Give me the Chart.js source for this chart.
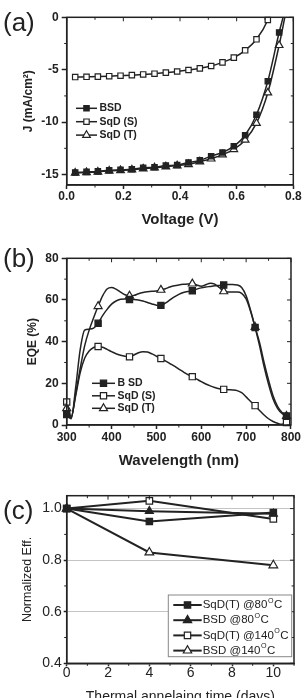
<!DOCTYPE html>
<html>
<head>
<meta charset="utf-8">
<script src="https://cdn.jsdelivr.net/npm/chart.js@4.4.1/dist/chart.umd.min.js"></script>
<style>
    body { margin: 0; width: 304px; height: 698px; overflow: hidden; background: #fff; position: relative; }
    .panel { position: absolute; left: 0; width: 304px; }
    .tag { position: absolute; left: 3px; font: 26px/26px 'Liberation Sans', Arial, sans-serif; color: #222; }
</style>
</head>
<body>
<div class="panel" style="top:0"><canvas id="jv" width="304" height="232"></canvas></div>
<div class="panel" style="top:232px"><canvas id="eqe" width="304" height="238"></canvas></div>
<div class="panel" style="top:470px"><canvas id="stab" width="304" height="240"></canvas></div>
<div class="tag" style="top:9px">(a)</div>
<div class="tag" style="top:245px">(b)</div>
<div class="tag" style="top:497px">(c)</div>
<script>
// (a) J-V curves
const jvVoltage = [0.03, 0.07, 0.11, 0.15, 0.19, 0.23, 0.27, 0.31, 0.35, 0.39, 0.43, 0.47, 0.51, 0.55, 0.59, 0.63, 0.67, 0.71, 0.75];
const jvBSD  = [-14.8, -14.75, -14.7, -14.6, -14.55, -14.5, -14.35, -14.3, -14.15, -14.1, -13.85, -13.65, -13.25, -12.9, -12.3, -11.25, -9.3, -6.1, -1.45];
const jvSqDS = [-5.7, -5.68, -5.66, -5.62, -5.57, -5.52, -5.45, -5.38, -5.28, -5.17, -5.03, -4.87, -4.65, -4.3, -3.85, -3.15, -2.1, -0.25];
const jvSqDT = [-14.85, -14.8, -14.75, -14.65, -14.6, -14.55, -14.45, -14.35, -14.25, -14.15, -14.03, -13.77, -13.5, -13.1, -12.6, -11.7, -10.1, -7.2, -2.67];
const jvVoc = [0.764, 0.713, 0.770];
const jvLabels = ['BSD', 'SqD (S)', 'SqD (T)'];
const jvXTicks = [0, 0.2, 0.4, 0.6, 0.8];
const jvYTicks = [-15, -10, -5, 0];

// (b) EQE spectra
const eqeWavelength = [300, 310, 320, 330, 340, 350, 360, 370, 380, 390, 400, 410, 420, 430, 440, 450, 460, 470, 480, 490,
    500, 510, 520, 530, 540, 550, 560, 570, 580, 590, 600, 610, 620, 630, 640, 650, 660, 670, 680, 690,
    700, 710, 720, 730, 740, 750, 760, 770, 780, 790];
const eqeBSD = [5, 3, 18, 36, 45.5, 46, 46.5, 48.8, 52.5, 55.5, 58, 59.5, 60.3, 60.5, 60.2, 60.2, 60, 59.5, 58.8, 58.1,
    57.5, 57.4, 58.5, 60, 61.5, 62.7, 63.6, 64.1, 64.4, 65.2, 65.8, 66.2, 66.5, 66.8, 67, 67.2, 67.4, 67.4, 67.2, 66,
    62, 55, 46.8, 38, 28, 19.5, 12.5, 8, 5.5, 4.3];
const eqeSqDS = [11, 4, 14, 25, 32, 35.5, 37.2, 37.7, 37.3, 36.3, 35.2, 34.2, 33.5, 33, 32.7, 33.6, 34.7, 35.2, 35, 34.1,
    33, 31.9, 30.8, 29.5, 28.2, 26.8, 25.5, 24.2, 23.2, 22, 20.8, 19.7, 18.8, 18, 17.4, 17.1, 16.9, 16.8, 16.5, 15.5,
    13.5, 11.3, 9.3, 7, 4.8, 3, 1.7, 0.8, 0.3, 1.2];
const eqeSqDT = [8, 3.5, 15, 27, 38, 45.5, 51.5, 57, 62, 65.3, 66, 65.2, 63.8, 62.5, 62, 62.2, 63, 63.6, 64, 64.2,
    64.3, 64.8, 65.4, 66.2, 66.8, 67.2, 67.5, 67.7, 67.8, 67.2, 66.6, 67.3, 68, 67.6, 66, 64.1, 63.8, 63.8, 63.8, 63.2,
    60.5, 54.5, 47, 39.5, 30, 21.5, 14, 9, 6, 4.3];
const eqeMarkerWl = [300, 370, 440, 510, 580, 650, 720, 790];
const eqeLabels = ['B SD', 'SqD (S)', 'SqD (T)'];
const eqeXTicks = [300, 400, 500, 600, 700, 800];
const eqeYTicks = [0, 20, 40, 60, 80];

// (c) thermal stability
const annealDays = [0, 4, 10];
const effSqDT80 = [1.0, 0.95, 0.985];
const effBSD80 = [1.0, 0.99, 0.98];
const effSqDT140 = [1.0, 1.03, 0.96];
const effBSD140 = [1.0, 0.83, 0.78];
const stabLabels = ['SqD(T) @80°C', 'BSD @80°C', 'SqD(T) @140°C', 'BSD @140°C'];
const stabXTicks = [0, 2, 4, 6, 8, 10];
const stabYTicks = [0.4, 0.6, 0.8, 1.0];

const INK = '#222';
const FONT = "'Liberation Sans', Arial, sans-serif";

const pts = (xs, ys) => ys.map((y, i) => ({ x: xs[i], y: y }));

function makeAxis(o) {
    return {
        type: 'linear',
        min: o.min,
        max: o.max,
        afterBuildTicks: s => { s.ticks = o.ticks.map(v => ({ value: v })); },
        afterFit: s => { if (o.horizontal) s.height = o.size; else s.width = o.size; },
        border: { display: true, color: INK, width: 1.5 },
        grid: {
            drawOnChartArea: !!o.gridColor,
            color: o.gridColor || INK,
            lineWidth: 1,
            tickColor: INK,
            tickWidth: 1.5,
            tickLength: o.tickLen
        },
        ticks: {
            color: INK,
            padding: o.tickPad,
            autoSkip: false,
            maxRotation: 0,
            font: { family: FONT, size: o.fontSize, weight: o.bold ? 'bold' : 'normal', lineHeight: 1 },
            callback: o.fmt || (v => v)
        },
        title: {
            display: true,
            text: o.title,
            color: INK,
            padding: o.titlePad,
            font: { family: FONT, size: o.titleSize, weight: o.bold ? 'bold' : 'normal' }
        }
    };
}

// box around the plot + minor / mirrored ticks
const frameBox = {
    id: 'frameBox',
    afterDatasetsDraw(chart, args, opts) {
        const { ctx, chartArea: a, scales: { x, y } } = chart;
        ctx.save();
        ctx.strokeStyle = INK;
        ctx.lineWidth = 1.5;
        ctx.strokeRect(a.left, a.top, a.right - a.left, a.bottom - a.top);
        ctx.lineWidth = 1;
        ctx.beginPath();
        const nx = Math.round((x.max - x.min) / opts.xMinor);
        for (let i = 0; i <= nx; i++) {
            const v = x.min + i * opts.xMinor;
            const px = x.getPixelForValue(v);
            const major = x.ticks.some(t => Math.abs(t.value - v) < 1e-6);
            if (!major) { ctx.moveTo(px, a.bottom); ctx.lineTo(px, a.bottom + 2.5); }
            ctx.moveTo(px, a.top); ctx.lineTo(px, a.top + (major ? 4 : 2.5));
        }
        const ny = Math.round((y.max - y.min) / opts.yMinor);
        for (let i = 0; i <= ny; i++) {
            const v = opts.yStart + i * opts.yMinor;
            if (v < y.min - 1e-6 || v > y.max + 1e-6) continue;
            const py = y.getPixelForValue(v);
            const major = y.ticks.some(t => Math.abs(t.value - v) < 1e-6);
            if (!major) { ctx.moveTo(a.left, py); ctx.lineTo(a.left - 2.5, py); }
            ctx.moveTo(a.right, py); ctx.lineTo(a.right - (major ? 4 : 2.5), py);
        }
        ctx.stroke();
        ctx.restore();
    }
};

// legend drawn inside the plot area
const insetLegend = {
    id: 'insetLegend',
    afterDraw(chart, args, opts) {
        const { ctx, chartArea: a } = chart;
        ctx.save();
        if (opts.box) {
            ctx.fillStyle = '#fff';
            ctx.strokeStyle = '#888';
            ctx.lineWidth = 1;
            ctx.fillRect(a.left + opts.box[0], a.top + opts.box[1], opts.box[2], opts.box[3]);
            ctx.strokeRect(a.left + opts.box[0], a.top + opts.box[1], opts.box[2], opts.box[3]);
        }
        chart.data.datasets.forEach((ds, i) => {
            const y = a.top + opts.top + i * opts.rowH;
            const x0 = a.left + opts.left;
            const x1 = x0 + opts.lineW;
            ctx.strokeStyle = ds.borderColor;
            ctx.lineWidth = ds.borderWidth;
            ctx.beginPath();
            ctx.moveTo(x0, y);
            ctx.lineTo(x1, y);
            ctx.stroke();
            ctx.fillStyle = ds.pointBackgroundColor;
            ctx.strokeStyle = ds.pointBorderColor;
            ctx.lineWidth = ds.pointBorderWidth;
            Chart.helpers.drawPoint(ctx, {
                pointStyle: ds.pointStyle,
                radius: ds.pointStyle === 'triangle' ? opts.triR : opts.rectR,
                rotation: 0,
                borderWidth: ds.pointBorderWidth
            }, (x0 + x1) / 2, y);
            ctx.fillStyle = INK;
            ctx.textBaseline = 'middle';
            ctx.textAlign = 'left';
            const font = opts.weight + ' ' + opts.size + 'px ' + FONT;
            const parts = ds.label.split('°');
            let tx = x1 + opts.gap;
            ctx.font = font;
            ctx.fillText(parts[0], tx, y);
            if (parts.length > 1) {
                tx += ctx.measureText(parts[0]).width;
                ctx.font = opts.weight + ' ' + (opts.size * 0.62) + 'px ' + FONT;
                ctx.fillText('O', tx + 0.5, y - opts.size * 0.38);
                tx += ctx.measureText('O').width + 1;
                ctx.font = font;
                ctx.fillText(parts[1], tx, y);
            }
        });
        ctx.restore();
    }
};

function series(label, data, style, filled, r, width, lastHidden) {
    return {
        label: label,
        data: data,
        borderColor: INK,
        borderWidth: width,
        pointStyle: style,
        pointBackgroundColor: filled ? INK : '#fff',
        pointBorderColor: INK,
        pointBorderWidth: 1.2,
        pointRadius: r,
        pointHoverRadius: r,
        clip: false,
        cubicInterpolationMode: 'monotone'
    };
}

const baseOptions = {
    responsive: false,
    animation: false,
    events: [],
    plugins: { legend: { display: false }, tooltip: { enabled: false } }
};

// (a)
const jvSets = [jvBSD, jvSqDS, jvSqDT].map((ys, k) => {
    const data = pts(jvVoltage, ys).concat([{ x: jvVoc[k], y: 0 }]);
    const style = ['rect', 'rect', 'triangle'][k];
    const r = style === 'rect' ? 3.8 : 4.4;
    const ds = series(jvLabels[k], data, style, k === 0, ctx => (ctx.dataIndex < ys.length ? r : 0), 1.5);
    return ds;
});

new Chart(document.getElementById('jv'), {
    type: 'line',
    data: { datasets: jvSets },
    options: Object.assign({}, baseOptions, {
        layout: { padding: { top: 17.3, right: 10.7, left: 0, bottom: 0 } },
        scales: {
            x: makeAxis({ horizontal: true, min: 0, max: 0.8, ticks: jvXTicks, size: 47, tickLen: 4, tickPad: 2,
                fontSize: 12, bold: true, fmt: v => v.toFixed(1),
                title: 'Voltage (V)', titleSize: 15, titlePad: { bottom: 3 } }),
            y: makeAxis({ min: -16, max: 0, ticks: jvYTicks, size: 66.7, tickLen: 5, tickPad: 3,
                fontSize: 12, bold: true,
                title: 'J (mA/cm²)', titleSize: 12, titlePad: { top: 21 } })
        },
        plugins: Object.assign({}, baseOptions.plugins, {
            frameBox: { xMinor: 0.1, yMinor: 2.5, yStart: -15 },
            insetLegend: { left: 9.3, top: 91, rowH: 13.4, lineW: 21, gap: 2.5, size: 10.5, weight: 'bold', rectR: 3.8, triR: 4.4 }
        })
    }),
    plugins: [frameBox, insetLegend]
});

// (b)
const eqeSets = [eqeBSD, eqeSqDS, eqeSqDT].map((ys, k) => {
    const style = ['rect', 'rect', 'triangle'][k];
    const r = style === 'rect' ? 4.4 : 4.6;
    return series(eqeLabels[k], pts(eqeWavelength, ys), style, k === 0,
        ctx => (eqeMarkerWl.includes(eqeWavelength[ctx.dataIndex]) ? r : 0), 1.5);
});

new Chart(document.getElementById('eqe'), {
    type: 'line',
    data: { datasets: eqeSets },
    options: Object.assign({}, baseOptions, {
        layout: { padding: { top: 26.3, right: 10.7, left: 0, bottom: 0 } },
        scales: {
            x: makeAxis({ horizontal: true, min: 300, max: 800, ticks: eqeXTicks, size: 45, tickLen: 4, tickPad: 3,
                fontSize: 12, bold: true,
                title: 'Wavelength (nm)', titleSize: 15, titlePad: { bottom: 0 } }),
            y: makeAxis({ min: 0, max: 80, ticks: eqeYTicks, size: 66.7, tickLen: 5, tickPad: 3,
                fontSize: 12, bold: true,
                title: 'EQE (%)', titleSize: 12, titlePad: { top: 25 } })
        },
        plugins: Object.assign({}, baseOptions.plugins, {
            frameBox: { xMinor: 50, yMinor: 10, yStart: 0 },
            insetLegend: { left: 25.3, top: 125, rowH: 12.5, lineW: 23, gap: 2.5, size: 10.5, weight: 'bold', rectR: 4.4, triR: 4.6 }
        })
    }),
    plugins: [frameBox, insetLegend]
});

// (c)
const stabSets = [
    series(stabLabels[0], pts(annealDays, effSqDT80), 'rect', true, 4.5, 2),
    series(stabLabels[1], pts(annealDays, effBSD80), 'triangle', true, 4.6, 2),
    series(stabLabels[2], pts(annealDays, effSqDT140), 'rect', false, 4.6, 2),
    series(stabLabels[3], pts(annealDays, effBSD140), 'triangle', false, 5, 2)
];
stabSets.forEach(ds => { ds.cubicInterpolationMode = 'default'; ds.tension = 0; });

new Chart(document.getElementById('stab'), {
    type: 'line',
    data: { datasets: stabSets },
    options: Object.assign({}, baseOptions, {
        layout: { padding: { top: 25.7, right: 10, left: 0, bottom: 0 } },
        scales: {
            x: makeAxis({ horizontal: true, min: 0, max: 11, ticks: stabXTicks, size: 46.7, tickLen: 3, tickPad: 0,
                fontSize: 14, bold: false,
                title: 'Thermal annelaing time (days)', titleSize: 14, titlePad: { bottom: 4.6 } }),
            y: makeAxis({ min: 0.4, max: 1.05, ticks: stabYTicks, size: 66.7, tickLen: 3, tickPad: 2,
                fontSize: 14, bold: false, fmt: v => v.toFixed(1), gridColor: '#c4c4c4',
                title: 'Normalized Eff.', titleSize: 12.5, titlePad: { top: 20.5 } })
        },
        plugins: Object.assign({}, baseOptions.plugins, {
            frameBox: { xMinor: 1, yMinor: 0.1, yStart: 0.4 },
            insetLegend: { box: [101.6, 99.3, 123.4, 61.7], left: 106.6, top: 109.3, rowH: 15.2, lineW: 28.4, gap: 1,
                size: 11.5, weight: 'normal', rectR: 4.5, triR: 4.8 }
        })
    }),
    plugins: [frameBox, insetLegend]
});
</script>
</body>
</html>
